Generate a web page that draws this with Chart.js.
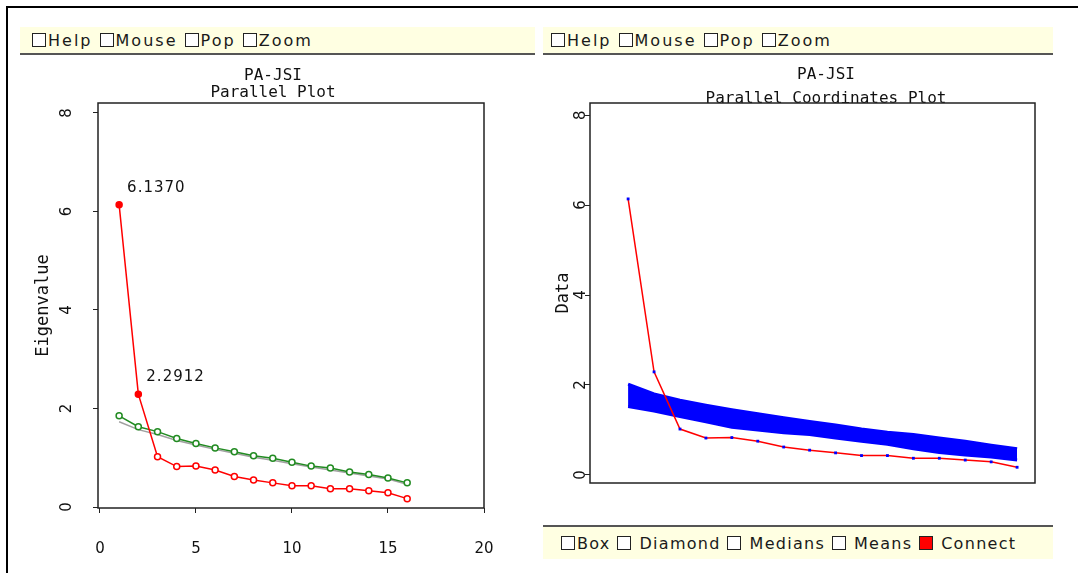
<!DOCTYPE html>
<html>
<head>
<meta charset="utf-8">
<script src="https://cdn.jsdelivr.net/npm/chart.js@4.4.1/dist/chart.umd.min.js"></script>
<style>
  html, body { margin: 0; padding: 0; background: #fff; }
  body { width: 1078px; height: 573px; position: relative; overflow: hidden; }
  #frame { position: absolute; left: 6px; top: 6px; width: 1072px; height: 567px;
           border-top: 2px solid #000; border-left: 2px solid #000; }
  .bar { position: absolute; background: #ffffe2; font: 16px "DejaVu Sans", sans-serif;
         letter-spacing: 1.3px; color: #1a1a1a; display: flex; align-items: center; white-space: pre;
         box-sizing: border-box; }
  .bar.top { height: 28px; border-bottom: 2px solid #555; letter-spacing: 2px; }
  .bar.bottom { height: 34px; border-top: 2px solid #555; }
  .box { display: inline-block; width: 12px; height: 12px; border: 1.5px solid #222;
         background: #fff; margin: 0 2px 0 0; }
  .box.on { background: #ff0000; }
  canvas { position: absolute; }
</style>
</head>
<body>
<div id="frame"></div>

<div class="bar top" style="left:20px; top:27px; width:515px; padding-left:12px;">
  <span class="box"></span>Help <span class="box"></span>Mouse <span class="box"></span>Pop <span class="box"></span>Zoom
</div>
<div class="bar top" style="left:543px; top:27px; width:510px; padding-left:8px;">
  <span class="box"></span>Help <span class="box"></span>Mouse <span class="box"></span>Pop <span class="box"></span>Zoom
</div>
<div class="bar bottom" style="left:543px; top:525px; width:510px; padding-left:18px;">
  <span class="box"></span>Box <span class="box"></span> Diamond <span class="box"></span> Medians <span class="box"></span> Means <span class="box on"></span> Connect
</div>

<canvas id="screePlot" width="530" height="515" style="left:8px; top:58px;"></canvas>
<canvas id="parPlot" width="538" height="465" style="left:540px; top:58px;"></canvas>

<script>
const components = [1, 2, 3, 4, 5, 6, 7, 8, 9, 10, 11, 12, 13, 14, 15, 16];
const observedEig = [6.137, 2.2912, 1.02, 0.82, 0.83, 0.75, 0.62, 0.55, 0.49, 0.43, 0.43, 0.37, 0.37, 0.33, 0.29, 0.17];
const randomMeanEig = [1.85, 1.63, 1.53, 1.39, 1.29, 1.20, 1.12, 1.04, 0.99, 0.91, 0.83, 0.79, 0.71, 0.66, 0.59, 0.49];
const randomSmoothEig = [1.73, 1.57, 1.47, 1.35, 1.26, 1.17, 1.09, 1.01, 0.95, 0.88, 0.81, 0.75, 0.69, 0.63, 0.57, 0.46];
const bandUpper = [2.02, 1.80, 1.66, 1.55, 1.45, 1.36, 1.27, 1.19, 1.11, 1.02, 0.95, 0.90, 0.82, 0.75, 0.66, 0.58];
const bandLower = [1.52, 1.42, 1.30, 1.18, 1.06, 1.00, 0.94, 0.90, 0.82, 0.75, 0.68, 0.58, 0.50, 0.44, 0.40, 0.33];
const xTicks = [0, 5, 10, 15, 20];
const yTicks = [0, 2, 4, 6, 8];
const labelledPoints = [0, 1];

const RED = '#ff0000', GREEN = '#228b22', BLUE = '#0000ff', GRAY = '#a0a0a0';
const tickFont = '15px "DejaVu Sans", sans-serif';

const pts = vals => components.map((c, i) => ({ x: c, y: vals[i] }));
const setTicks = list => scale => { scale.ticks = list.map(v => ({ value: v, label: String(v) })); };

// titles, white plot box with frame, rotated y tick labels
function panelPlugin(titles, titleX, titleY, labelGap) {
  return {
    id: 'panel',
    beforeDatasetsDraw(chart) {
      const { ctx, chartArea: a } = chart;
      ctx.save();
      ctx.fillStyle = '#111';
      ctx.font = '16px "DejaVu Sans Mono", monospace';
      ctx.textAlign = 'center';
      ctx.textBaseline = 'middle';
      titles.forEach((t, i) => ctx.fillText(t, titleX, titleY[i]));
      ctx.fillStyle = '#fff';
      ctx.fillRect(a.left, a.top, a.right - a.left, a.bottom - a.top);
      ctx.strokeStyle = '#222';
      ctx.lineWidth = 1.5;
      ctx.strokeRect(a.left, a.top, a.right - a.left, a.bottom - a.top);
      const ys = chart.scales.y;
      ctx.fillStyle = '#111';
      ctx.font = tickFont;
      ys.ticks.forEach(t => {
        ctx.save();
        ctx.translate(a.left - labelGap, ys.getPixelForValue(t.value));
        ctx.rotate(-Math.PI / 2);
        ctx.fillText(t.label, 0, 0);
        ctx.restore();
      });
      ctx.restore();
    }
  };
}

const valueLabels = {
  id: 'valueLabels',
  afterDatasetsDraw(chart) {
    const { ctx } = chart;
    const meta = chart.getDatasetMeta(0);
    ctx.save();
    ctx.fillStyle = '#111';
    ctx.font = '15px "DejaVu Sans", sans-serif';
    ctx.letterSpacing = '1px';
    ctx.textBaseline = 'middle';
    labelledPoints.forEach(i => {
      const p = meta.data[i];
      ctx.fillText(observedEig[i].toFixed(4), p.x + 8, p.y - 17);
    });
    ctx.restore();
  }
};

const axisGrid = { drawOnChartArea: false, drawTicks: true, tickLength: 5, color: '#222', lineWidth: 1 };

new Chart(document.getElementById('screePlot'), {
  type: 'line',
  data: {
    datasets: [
      {
        data: pts(observedEig), borderColor: RED, borderWidth: 1.5, pointRadius: 3,
        pointBorderColor: RED, pointBorderWidth: 1.5,
        pointBackgroundColor: observedEig.map((v, i) => labelledPoints.includes(i) ? RED : '#fff')
      },
      {
        data: pts(randomMeanEig), borderColor: GREEN, borderWidth: 1.5, pointRadius: 3,
        pointBorderColor: GREEN, pointBorderWidth: 1.5, pointBackgroundColor: '#fff'
      },
      { data: pts(randomSmoothEig), borderColor: GRAY, borderWidth: 1.5, pointRadius: 0 }
    ]
  },
  options: {
    responsive: false, animation: false, devicePixelRatio: 1,
    layout: { padding: { top: 45, right: 54, left: 0, bottom: 0 } },
    plugins: { legend: { display: false }, tooltip: { enabled: false } },
    scales: {
      x: {
        type: 'linear', min: -0.1, max: 20,
        afterBuildTicks: setTicks(xTicks),
        afterFit: s => { s.height = 65; },
        grid: axisGrid, border: { display: false },
        ticks: { color: '#111', font: { family: 'DejaVu Sans', size: 15 }, padding: 27, maxRotation: 0 }
      },
      y: {
        type: 'linear', min: -0.02, max: 8.2,
        afterBuildTicks: setTicks(yTicks),
        afterFit: s => { s.width = 90; },
        grid: axisGrid, border: { display: false },
        ticks: { display: false },
        title: { display: true, text: 'Eigenvalue', color: '#111',
                 font: { family: 'DejaVu Sans Mono', size: 17 }, padding: { top: 25 } }
      }
    }
  },
  plugins: [panelPlugin(['PA-JSI', 'Parallel Plot'], 265, [18, 35], 31), valueLabels]
});

new Chart(document.getElementById('parPlot'), {
  type: 'line',
  data: {
    datasets: [
      {
        data: pts(observedEig), borderColor: RED, borderWidth: 1.5,
        pointStyle: 'rect', pointRadius: 2, pointBorderWidth: 0, pointBackgroundColor: BLUE
      },
      { data: pts(bandUpper), borderColor: BLUE, borderWidth: 3, pointRadius: 0, fill: '+1', backgroundColor: BLUE },
      { data: pts(bandLower), borderColor: BLUE, borderWidth: 3, pointRadius: 0, fill: false }
    ]
  },
  options: {
    responsive: false, animation: false, devicePixelRatio: 1,
    layout: { padding: { top: 45, right: 43, left: 0, bottom: 40 } },
    plugins: { legend: { display: false }, tooltip: { enabled: false } },
    scales: {
      x: { type: 'linear', min: -0.47, max: 16.69, display: false },
      y: {
        type: 'linear', min: -0.18, max: 8.27,
        afterBuildTicks: setTicks(yTicks),
        afterFit: s => { s.width = 50; },
        grid: axisGrid, border: { display: false },
        ticks: { display: false },
        title: { display: true, text: 'Data', color: '#111',
                 font: { family: 'DejaVu Sans Mono', size: 17 }, padding: { top: 13 } }
      }
    }
  },
  plugins: [panelPlugin(['PA-JSI', 'Parallel Coordinates Plot'], 286, [17, 41], 9)]
});
</script>
</body>
</html>
